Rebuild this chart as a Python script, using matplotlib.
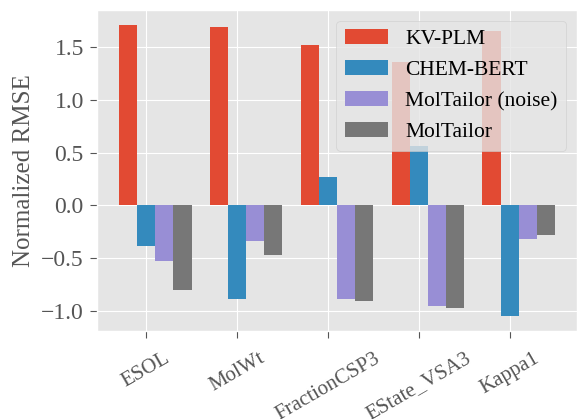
import numpy as np
import matplotlib
matplotlib.use('Agg')
import matplotlib.pyplot as plt

plt.style.use('ggplot')
plt.rcParams['font.family'] = ['Liberation Serif', 'DejaVu Serif']
plt.rcParams['mathtext.fontset'] = 'stix'

categories = ['ESOL', 'MolWt', 'FractionCSP3', 'EState_VSA3', 'Kappa1']
series = ['KV-PLM', 'CHEM-BERT', 'MolTailor (noise)', 'MolTailor']
kvplm = [1.71, 1.69, 1.52, 1.36, 1.65]
chembert = [-0.38, -0.89, 0.27, 0.56, -1.05]
moltailor_noise = [-0.53, -0.34, -0.89, -0.95, -0.32]
moltailor = [-0.80, -0.47, -0.90, -0.97, -0.28]
yticks = [-1.0, -0.5, 0.0, 0.5, 1.0, 1.5]

fig = plt.figure(figsize=(5.77, 4.19), dpi=100)
# axes box in pixels: left 97, right 577, top 10, bottom 331
ax = fig.add_axes([97 / 577, 1 - 331 / 419, 480 / 577, 321 / 419])

x = np.arange(len(categories))
w = 0.2
for k, vals in enumerate([kvplm, chembert, moltailor_noise, moltailor]):
    ax.bar(x + (k - 1) * w, vals, w, label=series[k])

ax.set_xticks(x)
ax.set_xticklabels(categories, rotation=30, fontsize=15)
ax.set_yticks(yticks)
ax.tick_params(axis='y', labelsize=17, length=5, pad=4.5)
ax.tick_params(axis='x', length=5, pad=8)
ax.set_ylabel('Normalized RMSE', fontsize=18, labelpad=4)
ax.legend(loc='upper right', fontsize=15.5)

fig.savefig('out.png', dpi=100)
